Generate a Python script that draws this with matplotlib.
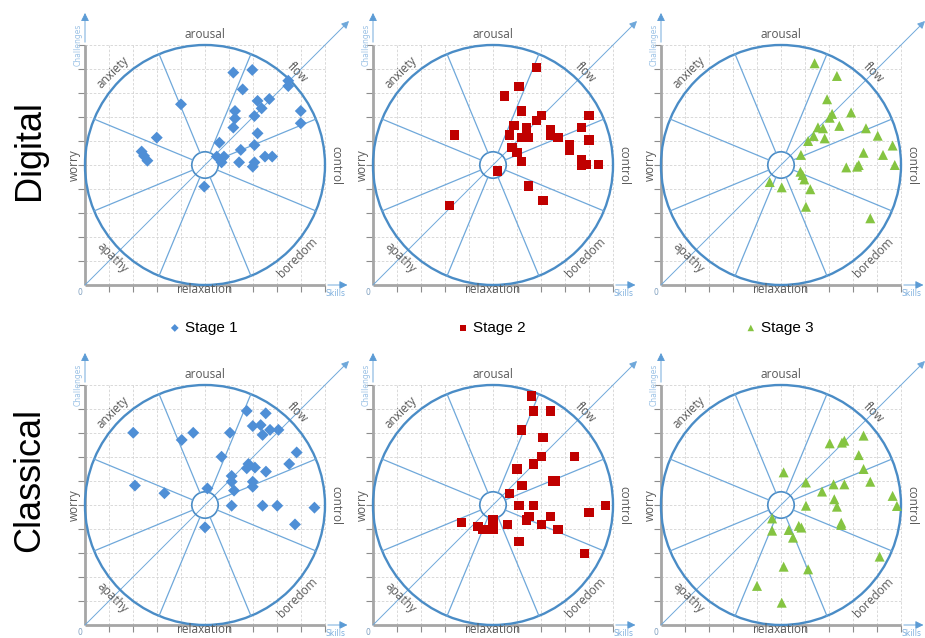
import numpy as np
import matplotlib
matplotlib.use("Agg")
import matplotlib.pyplot as plt
from matplotlib.patches import Circle

# ---- data (skills, challenges), axis 0..10 ----
dig1_x = [6.18, 6.97, 6.57, 8.47, 8.47, 4.0, 7.68, 7.19, 7.36, 6.25, 7.06, 6.25, 8.99, 8.99, 6.18, 7.19,
          2.99, 5.6, 7.06, 6.49, 2.36, 2.46, 2.6, 5.49, 5.79, 5.69, 6.42, 7.5, 7.8, 7.06, 6.99, 4.97]
dig1_y = [8.85, 8.96, 8.15, 8.51, 8.29, 7.53, 7.75, 7.67, 7.36, 7.25, 7.04, 6.94, 7.25, 6.74, 6.56, 6.32,
          6.14, 5.93, 5.83, 5.63, 5.56, 5.38, 5.18, 5.35, 5.35, 5.11, 5.11, 5.35, 5.35, 5.11, 4.93, 4.1]

dig2_x = [6.81, 6.08, 5.49, 6.19, 7.01, 6.81, 9.0, 5.88, 6.39, 8.68, 3.4, 5.69, 7.39, 7.39, 6.18, 6.49,
          6.39, 7.71, 9.0, 5.79, 8.19, 8.19, 6.0, 6.19, 8.68, 8.68, 8.89, 9.39, 5.19, 6.49, 7.08, 3.19]
dig2_y = [9.07, 8.26, 7.88, 7.25, 7.06, 6.85, 7.06, 6.64, 6.56, 6.56, 6.25, 6.25, 6.46, 6.25, 6.15, 6.15,
          6.35, 6.15, 6.04, 5.74, 5.86, 5.63, 5.53, 5.14, 5.21, 5.0, 5.03, 5.03, 4.75, 4.13, 3.51, 3.31]

dig3_x = [6.4, 7.33, 6.92, 7.92, 7.13, 7.03, 7.43, 8.54, 6.54, 6.75, 6.36, 6.13, 6.82, 9.03, 9.65,
          5.83, 8.44, 9.25, 9.74, 7.72, 8.17, 8.24, 5.81, 5.9, 5.97, 6.22, 4.53, 5.03, 6.04, 8.72]
dig3_y = [9.24, 8.71, 7.74, 7.19, 7.13, 6.97, 6.63, 6.53, 6.57, 6.53, 6.21, 6.0, 6.11, 6.22, 5.81,
          5.42, 5.51, 5.42, 5.0, 4.9, 4.93, 5.0, 4.72, 4.58, 4.4, 3.99, 4.29, 4.07, 3.26, 2.78]

cla1_x = [6.74, 7.53, 6.99, 7.32, 7.4, 7.71, 8.06, 2.01, 4.51, 4.03, 6.04, 8.82, 5.69, 8.51, 6.81, 6.74,
          7.08, 7.54, 6.11, 6.11, 6.99, 6.99, 2.08, 3.31, 5.1, 6.21, 6.11, 7.4, 8.01, 9.56, 8.75, 5.0]
cla1_y = [8.92, 8.82, 8.29, 8.33, 7.92, 8.13, 8.13, 8.01, 8.01, 7.71, 8.01, 7.19, 7.01, 6.71, 6.71, 6.53,
          6.56, 6.39, 6.21, 5.97, 5.97, 5.76, 5.81, 5.49, 5.69, 5.6, 4.97, 4.97, 4.97, 4.89, 4.19, 4.07]

cla2_x = [6.6, 6.69, 7.4, 6.19, 7.08, 7.01, 8.4, 6.69, 6.0, 6.21, 7.5, 7.61, 5.69, 6.08, 6.69,
          9.69, 9.0, 6.5, 6.39, 7.4, 7.01, 7.71, 3.68, 4.38, 4.58, 5.0, 5.0, 5.6, 6.08, 8.82]
cla2_y = [9.54, 8.92, 8.92, 8.13, 7.82, 7.01, 7.01, 6.71, 6.5, 5.81, 6.0, 6.0, 5.49, 4.97, 4.97,
          4.97, 4.69, 4.51, 4.38, 4.51, 4.19, 3.99, 4.28, 4.1, 3.99, 3.99, 4.38, 4.19, 3.47, 2.99]

cla3_x = [8.44, 7.03, 7.54, 7.64, 8.24, 8.44, 5.11, 8.72, 6.04, 7.19, 7.64, 6.71, 7.22, 7.33, 9.65,
          9.83, 6.04, 7.51, 7.51, 4.63, 4.63, 5.32, 5.74, 5.85, 5.5, 9.11, 5.11, 6.13, 4.0, 5.03]
cla3_y = [7.89, 7.57, 7.6, 7.68, 7.08, 6.5, 6.36, 5.97, 5.94, 5.86, 5.86, 5.56, 5.24, 4.93, 5.38,
          4.96, 4.97, 4.26, 4.17, 4.44, 3.93, 3.96, 4.13, 4.06, 3.64, 2.85, 2.43, 2.32, 1.63, 0.93]

rows = ["Digital", "Classical"]
stages = ["Stage 1", "Stage 2", "Stage 3"]
panels = [[(dig1_x, dig1_y), (dig2_x, dig2_y), (dig3_x, dig3_y)],
          [(cla1_x, cla1_y), (cla2_x, cla2_y), (cla3_x, cla3_y)]]

regions = ["control", "flow", "arousal", "anxiety", "worry", "apathy", "relaxation", "boredom"]
region_ang = [0, 45, 90, 135, 180, -135, -90, -45]
region_rad = [5.45, 5.45, 5.45, 5.45, 5.45, 5.45, 5.2, 5.45]

markers = ["D", "s", "^"]
msizes = [37, 45, 52]
colors = ["#4f8fd6", "#c00000", "#85c441"]

circ_col = "#4a8cc6"
line_col = "#6fa8da"
label_col = "#595959"
axis_col = "#a6a6a6"

W, H = 925, 638
fig = plt.figure(figsize=(W / 100, H / 100), dpi=100)

u = 24.0  # pixels per unit
xlo, xhi, ylo, yhi = -0.8, 11.2, -0.6, 11.6

for r in range(2):
    for c in range(3):
        ox = 85 + 288 * c
        oy = 285 + 340 * r
        left = (ox + xlo * u) / W
        bottom = (H - (oy - ylo * u)) / H
        ax = fig.add_axes([left, bottom, (xhi - xlo) * u / W, (yhi - ylo) * u / H])
        ax.set_xlim(xlo, xhi)
        ax.set_ylim(ylo, yhi)
        ax.axis("off")

        ticks = np.arange(1, 11)
        # dashed grid
        ax.hlines(ticks, 0, 10, colors="#d3d3d3", linestyles=(0, (3, 2)), lw=0.6, zorder=1)
        ax.vlines(ticks, 0, 10, colors="#d3d3d3", linestyles=(0, (3, 2)), lw=0.6, zorder=1)
        # ticks
        ax.vlines(ticks, -0.28, 0, colors="#8c8c8c", lw=0.8, zorder=2)
        ax.hlines(ticks, -0.28, 0, colors="#8c8c8c", lw=0.8, zorder=2)
        # axes
        ax.plot([0, 10], [0, 0], color=axis_col, lw=2, zorder=2, solid_capstyle="butt")
        ax.plot([0, 0], [0, 10], color=axis_col, lw=2, zorder=2, solid_capstyle="butt")
        ax.annotate("", xy=(11.05, 0), xytext=(10, 0),
                    arrowprops=dict(arrowstyle="-|>", color="#5b9bd5", lw=0.6, mutation_scale=12),
                    annotation_clip=False)
        ax.annotate("", xy=(0, 11.45), xytext=(0, 10),
                    arrowprops=dict(arrowstyle="-|>", color="#5b9bd5", lw=0.6, mutation_scale=12),
                    annotation_clip=False)
        ax.annotate("", xy=(11, 11), xytext=(0, 0),
                    arrowprops=dict(arrowstyle="-|>", color=line_col, lw=0.7, mutation_scale=11,
                                    shrinkA=0, shrinkB=0),
                    annotation_clip=False, zorder=3)

        ax.text(-0.3, 10.0, "Challenges", rotation=90, ha="center", va="center",
                fontsize=5.5, color="#9dc3e6")
        ax.text(10.42, -0.35, "Skills", ha="center", va="center", fontsize=5.5, color="#7fb0de")
        ax.text(-0.22, -0.3, "0", ha="center", va="center", fontsize=5.5, color="#7f9fbf")

        # flow wheel
        ax.add_patch(Circle((5, 5), 5, fill=False, ec=circ_col, lw=1.7, zorder=3))
        ax.add_patch(Circle((5, 5), 0.55, fill=False, ec=circ_col, lw=1.2, zorder=3))
        for a in np.arange(22.5, 360, 45):
            t = np.deg2rad(a)
            ax.plot([5 + 0.55 * np.cos(t), 5 + 5 * np.cos(t)],
                    [5 + 0.55 * np.sin(t), 5 + 5 * np.sin(t)], color=line_col, lw=0.9, zorder=3)
        for name, a, rr in zip(regions, region_ang, region_rad):
            t = np.deg2rad(a)
            rot = a - 90 if a >= 0 else a + 90
            ax.text(5 + rr * np.cos(t), 5 + rr * np.sin(t), name, rotation=rot,
                    rotation_mode="anchor", ha="center", va="center",
                    fontsize=8.5, color=label_col, family="Open Sans", zorder=4)

        xs, ys = panels[r][c]
        sc = ax.scatter(xs, ys, marker=markers[c], s=msizes[c], c=colors[c],
                        edgecolors="none", zorder=5, label=stages[c])

        if r == 0:
            ax.legend(handles=[sc], loc="center left", bbox_to_anchor=(3.55, -1.79),
                      bbox_transform=ax.transData, frameon=False, borderpad=0,
                      borderaxespad=0, handlelength=0.6, handletextpad=0.4,
                      markerscale=0.65, prop={"family": "Liberation Sans", "size": 11})

fig.text(30 / W, 1 - 150 / H, rows[0], rotation=90, ha="center", va="center",
         fontsize=26, family="Liberation Sans")
fig.text(30 / W, 1 - 480 / H, rows[1], rotation=90, ha="center", va="center",
         fontsize=26, family="Liberation Sans")

fig.savefig("out.png", dpi=100)
